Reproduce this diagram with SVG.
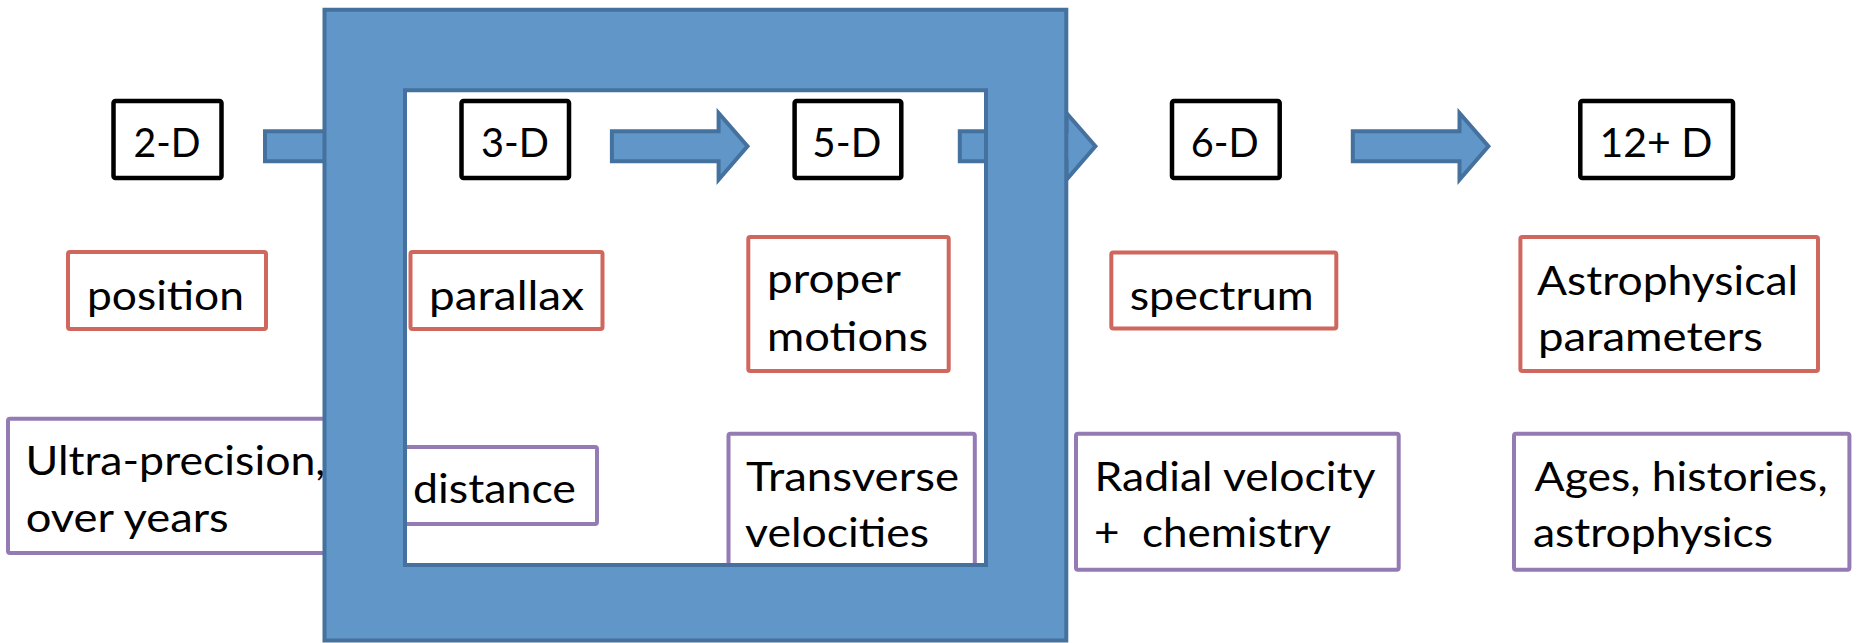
<svg xmlns="http://www.w3.org/2000/svg" xmlns:xlink="http://www.w3.org/1999/xlink" width="1857" height="643" viewBox="0 0 1857 643">
<style>
  text { font-family: Lato, "Liberation Sans", sans-serif; font-size: 40px; fill: #000; }
  .mid { text-anchor: middle; }
  .dbox { fill: #fff; stroke: #000; stroke-width: 4.5; }
  .rbox { fill: #fff; stroke: #D0675F; stroke-width: 4; }
  .pbox { fill: #fff; stroke: #957BB3; stroke-width: 4; }
  .blue { fill: #6196C9; stroke: #44719E; stroke-width: 4; stroke-linejoin: miter; }
</style>
<defs>
  <path id="arrow" d="M0,131.3 H106.7 V113 L135.6,146.3 L106.7,179.7 V161.3 H0 Z"/>
</defs>
<rect width="1857" height="643" fill="#fff"/>

<g id="connectors">
  <use xlink:href="#arrow" class="blue" transform="translate(265,0)"/>
  <use xlink:href="#arrow" class="blue" transform="translate(611.9,0)"/>
  <use xlink:href="#arrow" class="blue" transform="translate(959.8,0)"/>
  <use xlink:href="#arrow" class="blue" transform="translate(1352.8,0)"/>
</g>

<g id="node-2d"><rect class="dbox" x="113.5" y="101" width="108" height="77" rx="2"/><text class="mid" x="167" y="157" textLength="67" lengthAdjust="spacingAndGlyphs">2-D</text></g>
<g id="node-3d"><rect class="dbox" x="461.5" y="101" width="107.5" height="77" rx="2"/><text class="mid" x="515" y="157" textLength="68" lengthAdjust="spacingAndGlyphs">3-D</text></g>
<g id="node-5d"><rect class="dbox" x="794.6" y="101" width="106.7" height="77" rx="2"/><text class="mid" x="846.8" y="157" textLength="69" lengthAdjust="spacingAndGlyphs">5-D</text></g>
<g id="node-6d"><rect class="dbox" x="1172" y="101" width="107.7" height="77" rx="2"/><text class="mid" x="1224.8" y="157" textLength="68" lengthAdjust="spacingAndGlyphs">6-D</text></g>
<g id="node-12d"><rect class="dbox" x="1580.3" y="101" width="152.7" height="77" rx="2"/><text class="mid" x="1656" y="157" textLength="113" lengthAdjust="spacingAndGlyphs">12+ D</text></g>

<g id="node-position"><rect class="rbox" x="68" y="252" width="198" height="77" rx="2"/><text x="87" y="310" textLength="157" lengthAdjust="spacingAndGlyphs">position</text></g>
<g id="node-parallax"><rect class="rbox" x="410.5" y="252" width="192" height="77" rx="2"/><text x="429" y="310" textLength="155" lengthAdjust="spacingAndGlyphs">parallax</text></g>
<g id="node-proper"><rect class="rbox" x="748.3" y="237" width="200.4" height="134" rx="2"/><text x="767" y="293.3" textLength="134" lengthAdjust="spacingAndGlyphs">proper</text><text x="767" y="351" textLength="161" lengthAdjust="spacingAndGlyphs">motions</text></g>
<g id="node-spectrum"><rect class="rbox" x="1111.3" y="252.5" width="225" height="76" rx="2"/><text x="1129.7" y="310" textLength="184" lengthAdjust="spacingAndGlyphs">spectrum</text></g>
<g id="node-astroparams"><rect class="rbox" x="1520.4" y="237" width="297.6" height="134" rx="2"/><text x="1537" y="295" textLength="261" lengthAdjust="spacingAndGlyphs">Astrophysical</text><text x="1538" y="351" textLength="225" lengthAdjust="spacingAndGlyphs">parameters</text></g>

<g id="node-ultra"><rect class="pbox" x="8" y="418.7" width="340" height="134.3" rx="2"/><text x="25.5" y="475" textLength="300" lengthAdjust="spacingAndGlyphs">Ultra-precision,</text><text x="25.7" y="531.7" textLength="203" lengthAdjust="spacingAndGlyphs">over years</text></g>
<g id="node-distance"><rect class="pbox" x="390" y="447" width="207" height="77" rx="2"/><text x="413" y="503.3" textLength="163" lengthAdjust="spacingAndGlyphs">distance</text></g>
<g id="node-transverse"><rect class="pbox" x="728.5" y="433.7" width="246.3" height="150" rx="2"/><text x="746" y="490.7" textLength="213" lengthAdjust="spacingAndGlyphs">Transverse</text><text x="745" y="546.7" textLength="184" lengthAdjust="spacingAndGlyphs">velocities</text></g>
<g id="node-radial"><rect class="pbox" x="1076" y="433.7" width="322.7" height="136" rx="2"/><text x="1094.5" y="490.7" textLength="281" lengthAdjust="spacingAndGlyphs">Radial velocity</text><text x="1094" y="546.7" textLength="237" lengthAdjust="spacingAndGlyphs" xml:space="preserve">+  chemistry</text></g>
<g id="node-ages"><rect class="pbox" x="1514" y="433.7" width="335.4" height="136" rx="2"/><text x="1534.5" y="490.7" textLength="293" lengthAdjust="spacingAndGlyphs">Ages, histories,</text><text x="1533" y="546.7" textLength="240" lengthAdjust="spacingAndGlyphs">astrophysics</text></g>

<g id="frame">
  <path class="blue" fill-rule="evenodd" d="M324.5,9.8 H1066.3 V640.5 H324.5 Z M405,90.3 V565 H986 V90.3 Z"/>
</g>
</svg>
